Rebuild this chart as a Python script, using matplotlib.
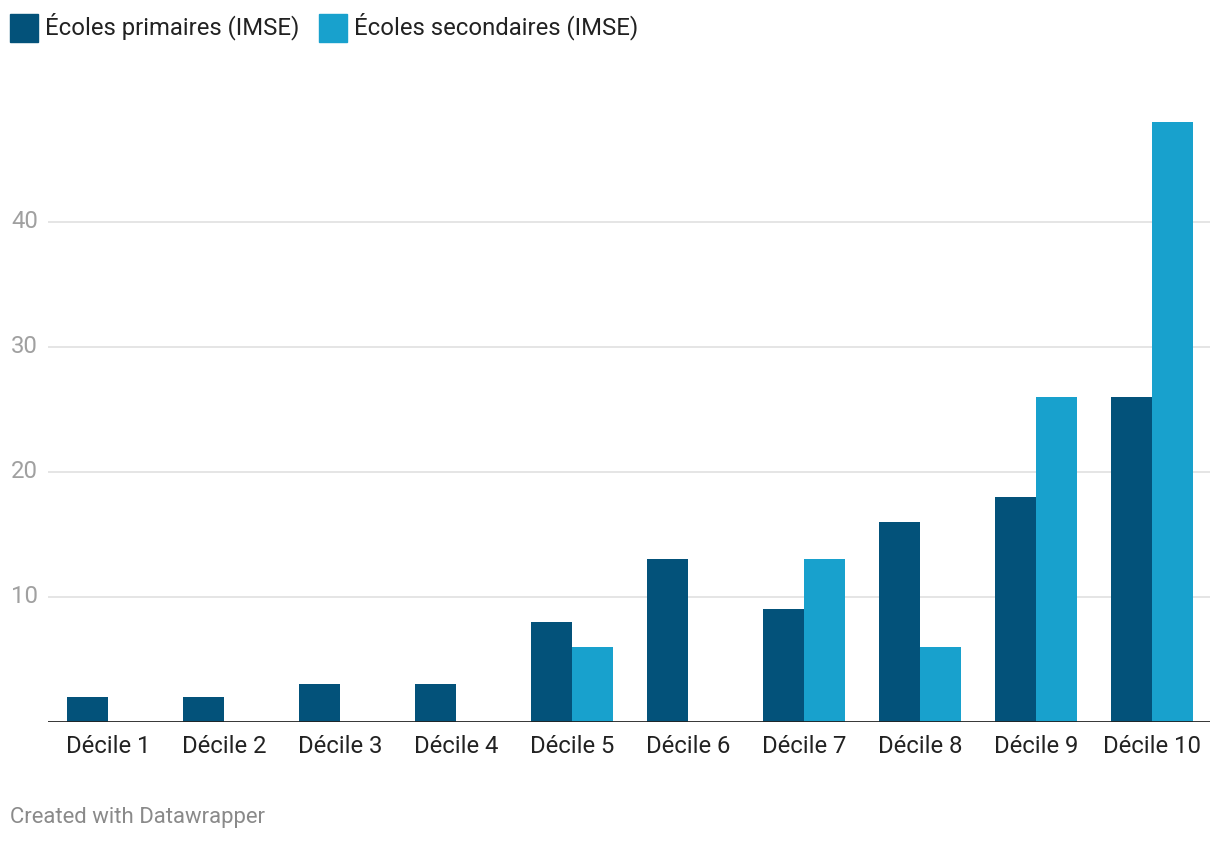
import matplotlib
matplotlib.use('AGG')
import matplotlib.pyplot as plt
import numpy as np
from matplotlib.patches import Rectangle

plt.rcParams['font.family'] = ['Roboto', 'DejaVu Sans']

deciles = ['Décile 1', 'Décile 2', 'Décile 3', 'Décile 4', 'Décile 5',
           'Décile 6', 'Décile 7', 'Décile 8', 'Décile 9', 'Décile 10']
primaires = [2, 2, 3, 3, 8, 13, 9, 16, 18, 26]
secondaires = [0, 0, 0, 0, 6, 0, 13, 6, 26, 48]
series_names = ['Écoles primaires (IMSE)', 'Écoles secondaires (IMSE)']
y_ticks = [10, 20, 30, 40]

COLORS = ['#03527a', '#18a1cd']
W, H = 1220, 844

fig = plt.figure(figsize=(W / 100, H / 100), dpi=100)
ax = fig.add_axes([48 / W, (H - 721.5) / H, (1210 - 48) / W, (721.5 - 96.5) / H])

x = np.arange(len(deciles))
bw = 0.353
ax.bar(x - bw / 2, primaires, width=bw, color=COLORS[0], zorder=3)
ax.bar(x + bw / 2, secondaires, width=bw, color=COLORS[1], zorder=3)

ax.set_xlim(-0.517, 9.5)
ax.set_ylim(0, 50)

for v in y_ticks:
    ax.axhline(v, color='#e3e3e3', lw=1.3, zorder=1)
    fig.text(38 / W, ax.transData.transform((0, v))[1] / H, str(v),
             ha='right', va='center', fontsize=17.2, color='#a0a0a0')
ax.axhline(0, color='#222222', lw=2, zorder=4)

ax.set_yticks([])
ax.set_xticks(x)
ax.set_xticklabels(deciles, fontsize=17.2, color='#222222')
ax.tick_params(axis='x', length=0, pad=10)
for s in ax.spines.values():
    s.set_visible(False)

# legend
lx = 10
for name, col in zip(series_names, COLORS):
    fig.patches.append(Rectangle((lx / W, (H - 42) / H), 28 / W, 28 / H,
                                 transform=fig.transFigure, color=col))
    t = fig.text((lx + 35) / W, (H - 26) / H, name, ha='left', va='center',
                 fontsize=17.2, color='#222222')
    fig.canvas.draw()
    bb = t.get_window_extent()
    lx = bb.x1 + 20

fig.text(10 / W, (H - 818) / H, 'Created with Datawrapper', ha='left', va='center',
         fontsize=15.9, color='#8a8a8a')

fig.savefig('out.png', dpi=100)
plt.close(fig)
